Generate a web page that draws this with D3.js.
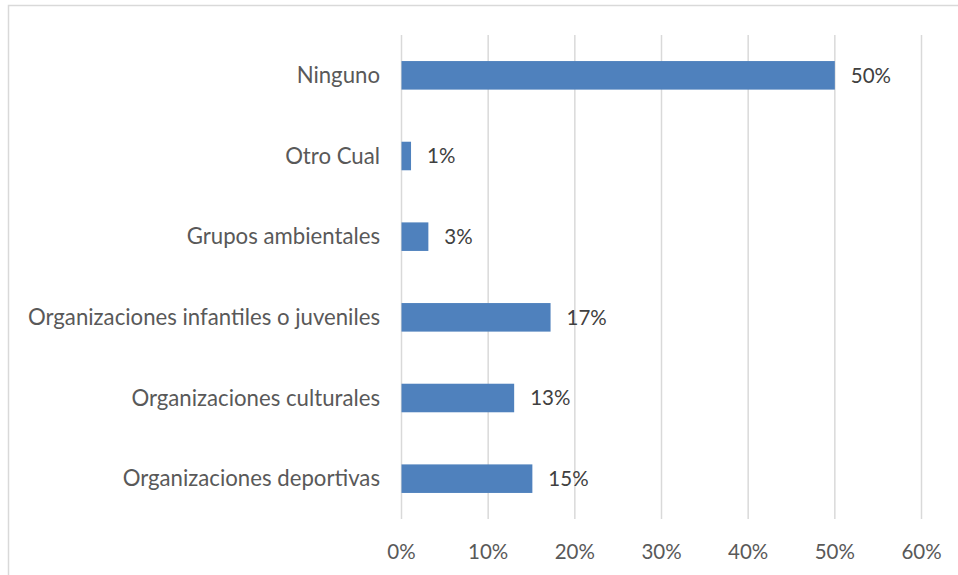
<!DOCTYPE html>
<html><head><meta charset="utf-8">
<script src="https://cdn.jsdelivr.net/npm/d3@7"></script>
<style>body{margin:0;background:#fff}svg{display:block}</style>
</head><body>
<script>
const categories = ["Ninguno","Otro Cual","Grupos ambientales","Organizaciones infantiles o juveniles","Organizaciones culturales","Organizaciones deportivas"];
const values = [0.50, 0.011, 0.031, 0.172, 0.13, 0.151];
const tickValues = [0,0.1,0.2,0.3,0.4,0.5,0.6];

const W=958,H=575;
const svg=d3.select("body").append("svg").attr("width",W).attr("height",H);
svg.append("rect").attr("x",8.5).attr("y",5.5).attr("width",W+10).attr("height",H+10)
  .attr("fill","#fff").attr("stroke","#d9d9d9").attr("stroke-width",1.5);

const font="Lato, sans-serif";
const fs=20.5, fsCat=22.2;
const x=d3.scaleLinear().domain([0,0.6]).range([401.5,921.5]);
const y=d3.scaleBand().domain(categories).range([35,519]).paddingInner(0.646).paddingOuter(0.323);

const grid=svg.append("g");
grid.selectAll("line").data(tickValues).join("line")
  .attr("x1",d=>x(d)).attr("x2",d=>x(d)).attr("y1",35).attr("y2",519)
  .attr("stroke","#d9d9d9").attr("stroke-width",1.5);

svg.append("g").selectAll("rect").data(values).join("rect")
  .attr("x",x(0)).attr("y",(d,i)=>y(categories[i]))
  .attr("width",d=>x(d)-x(0)).attr("height",y.bandwidth())
  .attr("fill","#4f81bd");

svg.append("g").selectAll("text").data(values).join("text")
  .attr("x",d=>x(d)+16).attr("y",(d,i)=>y(categories[i])+y.bandwidth()/2)
  .attr("dy","0.35em").attr("font-family",font).attr("font-size",fs).attr("fill","#404040")
  .text(d=>d3.format(".0%")(d));

svg.append("g").selectAll("text").data(categories).join("text")
  .attr("x",380).attr("y",d=>y(d)+y.bandwidth()/2).attr("text-anchor","end")
  .attr("dy","0.35em").attr("font-family",font).attr("font-size",fsCat).attr("fill","#595959")
  .text(d=>d);

svg.append("g").selectAll("text").data(tickValues).join("text")
  .attr("x",d=>x(d)).attr("y",552).attr("text-anchor","middle")
  .attr("dy","0.35em").attr("font-family",font).attr("font-size",fs).attr("fill","#595959")
  .text(d=>d3.format(".0%")(d));
</script>
</body></html>
